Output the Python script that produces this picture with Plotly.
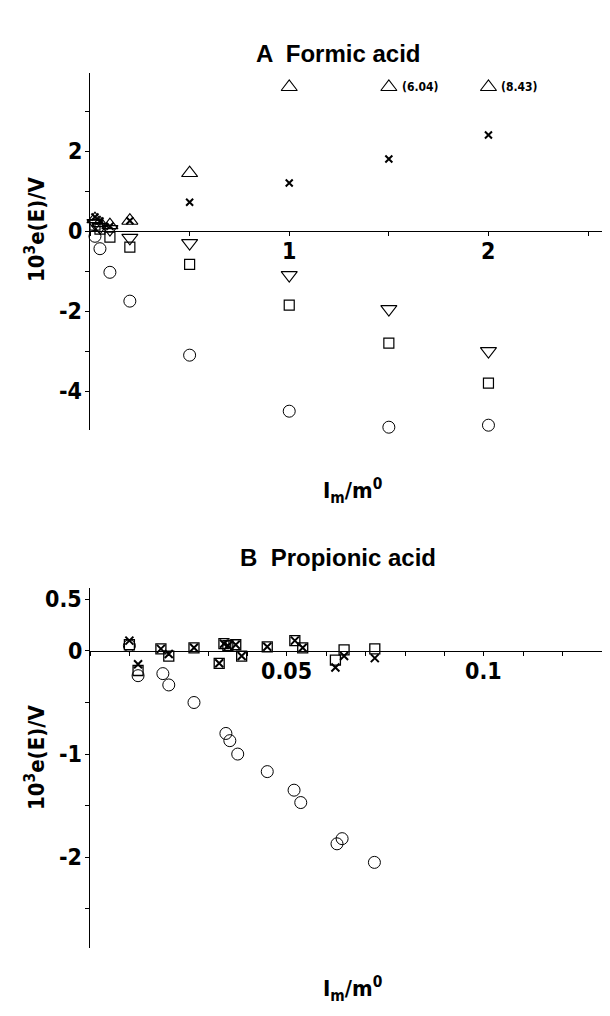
import plotly.graph_objects as go

# ---------------- Panel A: Formic acid ----------------
xA = [0.025, 0.05, 0.1, 0.2, 0.5, 1.0, 1.5, 2.0]
A_circle = [-0.13, -0.44, -1.03, -1.75, -3.1, -4.5, -4.9, -4.85]
A_square = [0.15, 0.05, -0.15, -0.4, -0.83, -1.85, -2.8, -3.8]
A_down = [0.2, 0.1, 0.05, -0.17, -0.3, -1.1, -1.95, -3.0]
A_up = [0.3, 0.2, 0.15, 0.26, 1.45, 3.6, 6.04, 8.43]
A_cross = [0.35, 0.25, 0.12, 0.26, 0.72, 1.2, 1.8, 2.4]
A_cap = 3.6  # off-scale values are drawn at the top and labelled

# ---------------- Panel B: Propionic acid ----------------
B_circle_x = [0.010, 0.0122, 0.0185, 0.020, 0.0264, 0.0345, 0.0355, 0.0375, 0.045,
              0.0518, 0.0535, 0.0627, 0.064, 0.0722]
B_circle_y = [0.05, -0.24, -0.22, -0.33, -0.50, -0.80, -0.87, -1.0, -1.17,
              -1.35, -1.47, -1.87, -1.82, -2.05]
B_sq_x = [0.010, 0.0122, 0.018, 0.020, 0.0264, 0.0328, 0.034, 0.035, 0.037, 0.0385,
          0.045, 0.052, 0.054, 0.0623, 0.0645, 0.0723]
B_sq_y = [0.06, -0.19, 0.02, -0.05, 0.03, -0.12, 0.07, 0.05, 0.06, -0.05,
          0.04, 0.10, 0.03, -0.09, 0.01, 0.02]
B_cross_y = [0.10, -0.13, 0.02, -0.03, 0.03, -0.12, 0.07, 0.05, 0.06, -0.05,
             0.04, 0.10, 0.03, -0.16, -0.05, -0.07]

# labelled ticks
yA_vals = [-4, -2, 0, 2]
yA_text = ["-4", "-2", "0", "2"]
xA_vals = [1, 2]
xA_text = ["1", "2"]
yB_vals = [-2, -1, 0, 0.5]
yB_text = ["-2", "-1", "0", "0.5"]
xB_vals = [0.05, 0.1]
xB_text = ["0.05", "0.1"]

W, H = 610, 1016
FONT = "DejaVu Sans Condensed, Liberation Sans Narrow, Arial Narrow, sans-serif"
BOLD = "Liberation Sans, Arial, sans-serif"


def px_x(p):
    return p / W


def px_y(p):
    return 1 - p / H


fig = go.Figure()


def add(x, y, xa, ya, symbol, size, lw):
    fig.add_trace(go.Scatter(x=x, y=y, mode="markers", xaxis=xa, yaxis=ya,
                             marker=dict(symbol=symbol, size=size, color="black",
                                         line=dict(width=lw, color="black")),
                             cliponaxis=False, hoverinfo="skip"))


# Panel A traces
add(xA, A_circle, "x", "y", "circle-open", 12, 1)
add(xA, A_square, "x", "y", "square-open", 10, 1.2)
add(xA, A_down, "x", "y", "triangle-down-open", 14, 1.1)
A_up_shown = [min(v, A_cap) for v in A_up]
add(xA, A_up_shown, "x", "y", "triangle-up-open", 14, 1.1)
add(xA, A_cross, "x", "y", "x-thin-open", 7, 2)

# Panel B traces
add(B_circle_x, B_circle_y, "x2", "y2", "circle-open", 12, 1)
add(B_sq_x, B_sq_y, "x2", "y2", "square-open", 10, 1.3)
add(B_sq_x, B_cross_y, "x2", "y2", "x-thin-open", 8, 2)

common_axis = dict(showline=True, linecolor="black", linewidth=1.3, showgrid=False, zeroline=False,
                   ticks="outside", ticklen=4, tickwidth=1.3, tickcolor="black",
                   tickmode="array", showticklabels=False)


def minor(d, t0=0):
    return dict(ticks="outside", dtick=d, tick0=t0, ticklen=4, tickwidth=1.3, tickcolor="black",
                showgrid=False)


fig.update_layout(
    width=W, height=H,
    margin=dict(l=0, r=0, t=0, b=0),
    paper_bgcolor="white", plot_bgcolor="white",
    showlegend=False,
    xaxis=dict(domain=[px_x(82), px_x(600)], range=[0, 2.6], anchor="free", position=px_y(223),
               tickvals=xA_vals, minor=minor(0.5), **common_axis),
    yaxis=dict(domain=[px_y(422), px_y(65)], range=[-4.97, 3.95], anchor="x",
               tickvals=yA_vals, minor=minor(1), **common_axis),
    xaxis2=dict(domain=[px_x(82), px_x(600)], range=[0, 0.1315], anchor="free", position=px_y(643),
                tickvals=xB_vals, minor=minor(0.01), **common_axis),
    yaxis2=dict(domain=[px_y(940), px_y(580)], range=[-2.88, 0.61], anchor="x2",
                tickvals=yB_vals, minor=minor(0.5), **common_axis),
)

ann = []
tickfont = dict(family=FONT, size=23, color="black")
# tick labels as text placed through the axes
for xa, ya, vals, texts in (("x", "y", yA_vals, yA_text), ("x2", "y2", yB_vals, yB_text)):
    for v, t in zip(vals, texts):
        ann.append(dict(text="<b>%s</b>" % t, x=0, y=v, xref=xa, yref=ya, xanchor="right",
                        yanchor="middle", xshift=-6, showarrow=False, font=tickfont))
for xa, ya, vals, texts in (("x", "y", xA_vals, xA_text), ("x2", "y2", xB_vals, xB_text)):
    for v, t in zip(vals, texts):
        ann.append(dict(text="<b>%s</b>" % t, x=v, y=0, xref=xa, yref=ya, xanchor="center",
                        yanchor="top", yshift=-5, showarrow=False, font=tickfont))

titlefont = dict(family=BOLD, size=24, color="black")
ann.append(dict(text="<b>A  Formic acid</b>", x=px_x(330), y=px_y(30), xref="paper", yref="paper",
                showarrow=False, font=titlefont))
ann.append(dict(text="<b>B  Propionic acid</b>", x=px_x(330), y=px_y(549), xref="paper", yref="paper",
                showarrow=False, font=titlefont))
labfont = dict(family=FONT, size=22, color="black")
for yy in (483, 999):
    ann.append(dict(text="<b>I<sub>m</sub>/m<sup>0</sup></b>", x=px_x(344), y=px_y(yy),
                    xref="paper", yref="paper", showarrow=False, font=labfont))
for yy in (222, 750):
    ann.append(dict(text="<b>10<sup>3</sup>e(E)/V</b>", x=px_x(27), y=px_y(yy), xref="paper", yref="paper",
                    xanchor="center", yanchor="middle",
                    showarrow=False, textangle=-90, font=dict(family=FONT, size=22, color="black")))
# off-scale values
for xv, v in zip(xA, A_up):
    if v > A_cap:
        ann.append(dict(text="<b>(%.2f)</b>" % v, x=xv, y=A_cap, xref="x", yref="y", xshift=11,
                        xanchor="left", showarrow=False,
                        font=dict(family=FONT, size=12, color="black")))

fig.update_layout(annotations=ann)
fig.write_html("out.html")
